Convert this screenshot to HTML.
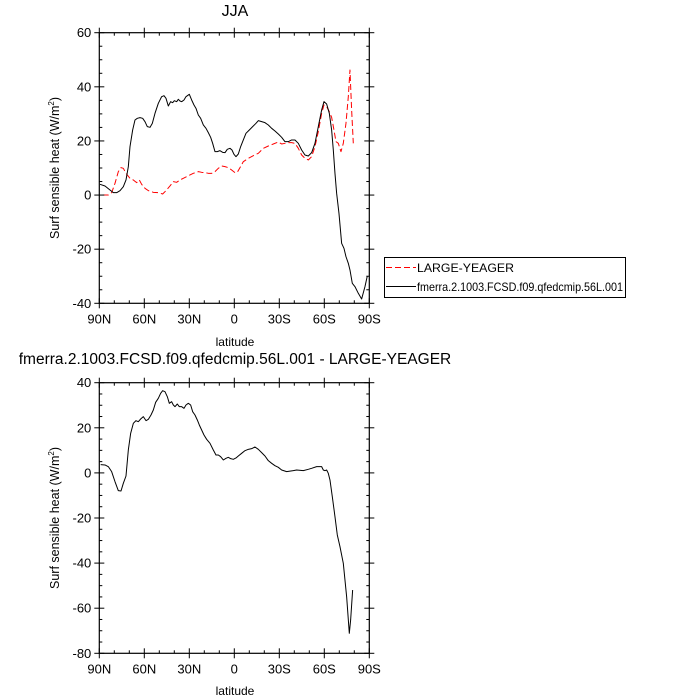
<!DOCTYPE html>
<html><head><style>body{margin:0;background:#fff}svg{display:block}text{font-family:"Liberation Sans",sans-serif;fill:#000}</style></head>
<body>
<svg id="s" width="700" height="700" xmlns="http://www.w3.org/2000/svg">
<text x="235" y="16" font-size="16" text-anchor="middle">JJA</text>
<text x="235" y="364" font-size="15.5" text-anchor="middle">fmerra.2.1003.FCSD.f09.qfedcmip.56L.001 - LARGE-YEAGER</text>
<text x="235" y="346" font-size="12" text-anchor="middle">latitude</text>
<text x="235" y="695" font-size="12" text-anchor="middle">latitude</text>
<text transform="translate(59,168) rotate(-90)" font-size="12.5" text-anchor="middle">Surf sensible heat (W/m<tspan font-size="8" dy="-5">2</tspan><tspan dy="5">)</tspan></text>
<text transform="translate(59,518) rotate(-90)" font-size="12.5" text-anchor="middle">Surf sensible heat (W/m<tspan font-size="8" dy="-5">2</tspan><tspan dy="5">)</tspan></text>
<g transform="translate(40,0) scale(0.3333)" fill="none" stroke-width="3" stroke-linejoin="round">
<polyline stroke="#f00" stroke-dasharray="18,9" points="188,585 205,585 215,578 225,550 235,515 243,503 250,505 258,520 270,535 280,540 290,548 298,540 305,553 315,565 325,572 340,577 355,578 368,582 378,572 390,558 400,545 410,547 420,540 430,535 440,530 450,525 460,520 475,515 485,517 495,518 505,520 515,520 525,515 535,505 545,498 555,500 565,503 575,510 585,518 592,517 600,503 610,485 625,475 640,467 655,460 670,445 685,438 700,432 715,426 725,432 735,430 745,428 755,428 765,430 775,445 785,465 795,475 805,480 815,470 825,440 835,395 845,340 852,315 860,320 868,335 875,352 882,390 888,425 895,430 903,455 910,430 918,370 925,290 930,210 935,330 940,430"/>
<polyline stroke="#000" points="180,553 195,558 210,570 220,578 230,578 240,572 250,560 258,540 265,500 270,440 278,390 285,360 292,355 300,353 308,355 315,365 322,380 330,382 337,370 345,340 355,310 365,290 372,287 378,295 385,318 392,305 398,308 403,302 410,305 415,298 420,303 425,305 432,300 438,290 448,283 455,300 462,315 468,325 475,345 482,355 490,375 498,385 505,398 512,412 518,430 525,455 532,455 540,452 548,457 555,458 562,448 570,445 576,450 582,463 588,470 595,462 602,440 610,420 618,400 628,390 638,380 648,370 655,362 665,365 675,368 685,375 695,385 705,393 715,402 725,412 735,425 745,425 755,420 765,420 775,430 785,450 795,465 805,468 815,458 825,430 835,380 845,330 852,305 860,312 868,340 875,390 880,450 885,520 890,580 897,640 905,730 912,745 918,770 925,790 930,810 937,850 945,860 955,880 965,897 975,860 982,828"/>
</g>
<g transform="translate(40,350) scale(0.3333)" fill="none" stroke-width="3" stroke-linejoin="round">
<polyline stroke="#000" points="182,344 195,345 205,350 215,365 225,395 235,422 243,423 250,400 258,378 265,300 272,250 280,220 288,212 295,215 302,207 310,200 318,212 325,208 333,195 340,180 347,157 355,145 362,130 368,122 375,125 382,140 388,160 395,155 400,165 405,170 412,162 418,170 425,170 432,175 438,165 445,160 452,165 458,185 465,195 472,210 478,225 485,240 492,255 500,268 510,280 520,300 528,315 535,315 542,320 550,330 558,325 565,322 572,326 580,328 588,324 595,318 605,310 615,302 625,298 635,296 645,291 655,298 665,308 675,318 685,332 695,340 705,347 715,352 725,360 740,365 760,362 770,360 790,362 805,358 815,355 830,350 845,350 850,360 855,362 860,360 865,370 870,390 877,440 885,500 892,555 900,590 910,640 920,740 928,850 932,810 938,720"/>
</g>
<rect x="384.5" y="257.5" width="241" height="40" fill="none" stroke="#000" stroke-width="1"/>
<line x1="386" y1="267.5" x2="416" y2="267.5" stroke="#f00" stroke-dasharray="6,3"/>
<line x1="386" y1="286.5" x2="416" y2="286.5" stroke="#000"/>
<text x="417" y="272" font-size="12" textLength="97" lengthAdjust="spacingAndGlyphs">LARGE-YEAGER</text>
<text x="417" y="291" font-size="12" textLength="206" lengthAdjust="spacingAndGlyphs">fmerra.2.1003.FCSD.f09.qfedcmip.56L.001</text>
<g id="ax"></g>
</svg>
<script>
var ns="http://www.w3.org/2000/svg",g=document.getElementById("ax");
function el(t,a,tx){var e=document.createElementNS(ns,t);for(var k in a)e.setAttribute(k,a[k]);if(tx!=null)e.textContent=tx;g.appendChild(e);}
function ln(a,b,c,d){el("line",{x1:a,y1:b,x2:c,y2:d,stroke:"#000","stroke-width":1});}
function plot(x0,x1,y0,y1,vmax,vmin,step,minor){
 el("rect",{x:x0,y:y0,width:x1-x0,height:y1-y0,fill:"none",stroke:"#000","stroke-width":1.2});
 var lab=["90N","60N","30N","0","30S","60S","90S"];
 for(var i=0;i<=18;i++){var x=x0+(x1-x0)*i/18,mj=i%3==0,L=mj?5:3;
  ln(x,y1,x,y1-L);ln(x,y0,x,y0+L);if(mj){ln(x,y1,x,y1+5);ln(x,y0,x,y0-5);el("text",{x:x,y:y1+20,"font-size":13,"text-anchor":"middle"},lab[i/3]);}}
 var n=(vmax-vmin)/minor;
 for(var j=0;j<=n;j++){var v=vmax-j*minor,y=y0+(y1-y0)*j/n,mj=Math.abs(v%step)<1e-6,L=mj?5:3;
  ln(x0,y,x0+L,y);ln(x1,y,x1-L,y);if(mj){ln(x0,y,x0-5,y);ln(x1,y,x1+5,y);el("text",{x:x0-8,y:y+4.5,"font-size":13,"text-anchor":"end"},v);}}
}
plot(99.3,369.3,32.7,303.3,60,-40,20,5);
plot(99.3,369.3,382.7,653.3,40,-80,20,5);
</script>
</body></html>
